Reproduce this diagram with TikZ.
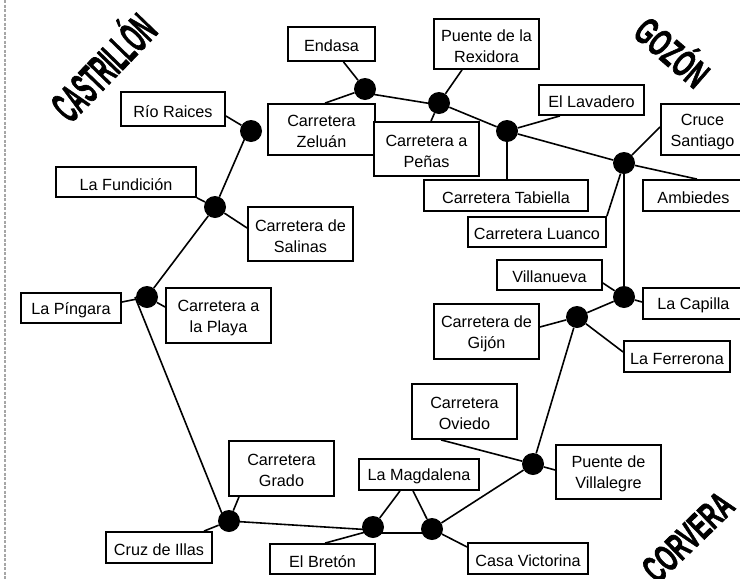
\documentclass[tikz,border=0pt]{standalone}
\usepackage{fontspec}
\setmainfont{Liberation Sans}
\newfontfamily\regionfont[FakeBold=2]{Liberation Sans Bold}
\tikzset{
  box/.style={draw=black,line width=1.8pt,fill=white,inner sep=0pt},
  boxtext/.style={inner sep=0pt,align=center,font=\fontsize{16.2}{21}\selectfont},
  dot/.style={circle,fill=black,draw=none,minimum size=22pt,inner sep=0pt},
  conn/.style={draw=black,line width=1.6pt},
  region/.style={inner sep=0pt}
}
\newcommand{\bx}[6]{\node[box,minimum width=#3pt-#2pt,minimum height=#5pt-#4pt] (#1) at ({(#2+#3)/2},{(#4+#5)/2}) {};
\node[boxtext] (#1t) at ([yshift=-2.2pt]#1.center) {#6};}
\begin{document}
\begin{tikzpicture}[x=1pt,y=-1pt]
\useasboundingbox (0,0) rectangle (740,579);
\fill[white] (0,0) rectangle (740,579);
\draw[line width=1.6pt,draw=black!35,dash pattern=on 3pt off 1.5pt] (5,0) -- (5,579);
% dots
\node[dot] (dRio) at (251,131) {};
\node[dot] (dFun) at (215,207) {};
\node[dot] (dPin) at (147,297) {};
\node[dot] (dGra) at (229,521) {};
\node[dot] (dBre) at (373,527) {};
\node[dot] (dVic) at (432,529) {};
\node[dot] (dVil) at (533,464) {};
\node[dot] (dGij) at (577,317) {};
\node[dot] (dCap) at (624,297) {};
\node[dot] (dCru) at (624,163) {};
\node[dot] (dTab) at (507,131) {};
\node[dot] (dPue) at (439,103) {};
\node[dot] (dEnd) at (365,89) {};
% boxes
\bx{zel}{268}{375}{104}{155}{Carretera\\Zeluán}
\bx{pen}{374}{479}{122}{176}{Carretera a\\Peñas}
\bx{end}{288}{375}{27}{61}{Endasa}
\bx{rex}{434}{539}{19}{69}{Puente de la\\Rexidora}
\bx{rio}{121}{225}{92}{126}{Río Raices}
\bx{fun}{56}{196}{167}{197}{La Fundición}
\bx{sal}{248}{353}{207}{261}{Carretera de\\Salinas}
\bx{lav}{539}{644}{85}{115}{El Lavadero}
\bx{san}{661}{744}{104}{155}{Cruce\\Santiago}
\bx{amb}{643}{744}{180}{211}{Ambiedes}
\bx{tab}{424}{588}{180}{211}{Carretera Tabiella}
\bx{lua}{468}{606}{217}{247}{Carretera Luanco}
\bx{vil}{497}{602}{260}{290}{Villanueva}
\bx{cap}{643}{744}{288}{319}{La Capilla}
\bx{pin}{21}{121}{293}{323}{La Píngara}
\bx{pla}{166}{271}{288}{343}{Carretera a\\la Playa}
\bx{gij}{434}{539}{304}{359}{Carretera de\\Gijón}
\bx{fer}{624}{730}{341}{372}{La Ferrerona}
\bx{ovi}{412}{517}{384}{439}{Carretera\\Oviedo}
\bx{pvi}{556}{661}{445}{499}{Puente de\\Villalegre}
\bx{gra}{229}{334}{441}{496}{Carretera\\Grado}
\bx{mag}{359}{479}{459}{490}{La Magdalena}
\bx{ill}{106}{212}{532}{563}{Cruz de Illas}
\bx{bre}{270}{375}{544}{574}{El Bretón}
\bx{vic}{468}{588}{543}{574}{Casa Victorina}
% connectors
\path[conn] ([xshift=12pt]end.south) -- (dEnd);
\path[conn] ([xshift=3.5pt]zel.north) -- (dEnd);
\path[conn] ([yshift=-4pt]dEnd.center) -- ([yshift=-2pt]dPue.center);
\path[conn] ([xshift=-24.5pt]rex.south) -- (dPue);
\path[conn] ([xshift=4.5pt]pen.north) -- (dPue);
\path[conn] (dPue) -- (dTab);
\path[conn] ([xshift=-31.5pt]lav.south) -- (dTab);
\path[conn] ([xshift=1pt]tab.north) -- (dTab.south);
\path[conn] (dTab) -- (dCru);
\path[conn] ([yshift=2.5pt]san.west) -- (dCru);
\path[conn] ([xshift=3.5pt]amb.north) -- (dCru);
\path[conn] (lua.north east) -- (dCru);
\path[conn] (dCru) -- (dCap);
\path[conn] ([yshift=-8pt]vil.east) -- (dCap);
\path[conn] ([yshift=1.5pt]cap.west) -- (dCap);
\path[conn] (dCap) -- (dGij);
\path[conn] ([yshift=4.5pt]gij.east) -- (dGij);
\path[conn] ([yshift=4.5pt]fer.west) -- (dGij);
\path[conn] (dGij) -- (dVil);
\path[conn] ([xshift=-23.5pt]ovi.south) -- (dVil);
\path[conn] ([yshift=2pt]pvi.west) -- (dVil);
\path[conn] (dVil) -- (dVic);
\path[conn] ([yshift=11.5pt]vic.west) -- (dVic);
\path[conn] ([xshift=-6pt]mag.south) -- (dVic);
\path[conn] ([xshift=-19pt]mag.south) -- (dBre);
\path[conn] ([yshift=-6pt]dBre.center) -- ([yshift=-4pt]dVic.center);
\path[conn] (dGra) -- ([yshift=-3pt]dBre.center);
\path[conn] ([xshift=2.5pt]bre.north) -- ([yshift=-3pt]dBre.center);
\path[conn] ([xshift=45pt]ill.north) -- (dGra);
\path[conn] ([xshift=-42.5pt]gra.south) -- (dGra);
\path[conn] ([xshift=-12pt]dPin.center) -- ([xshift=-4pt]dGra.center);
\path[conn] (dPin) -- (dFun);
\path[conn] (dFun) -- ([xshift=-3pt]dRio.center);
\path[conn] (fun.south east) -- (dFun);
\path[conn] ([yshift=6pt]sal.west) -- (dFun);
\path[conn] ([yshift=8.5pt]pla.west) -- (dPin);
\path[conn] ([yshift=6pt]pin.east) -- (dPin);
\path[conn] ([yshift=-7pt]rio.east) -- (dRio);
% regions
\node[region,rotate=46,font=\fontsize{44}{44}\regionfont] (rCas) at (101,65) {\scalebox{0.45}[1]{CASTRILLÓN}};
\node[region,rotate=-41,font=\fontsize{38}{38}\regionfont] (rGoz) at (674,50) {\scalebox{0.6}[1]{GOZÓN}};
\node[region,rotate=44,font=\fontsize{38}{38}\regionfont] (rCor) at (688,537) {\scalebox{0.58}[1]{CORVERA}};
\end{tikzpicture}
\end{document}
